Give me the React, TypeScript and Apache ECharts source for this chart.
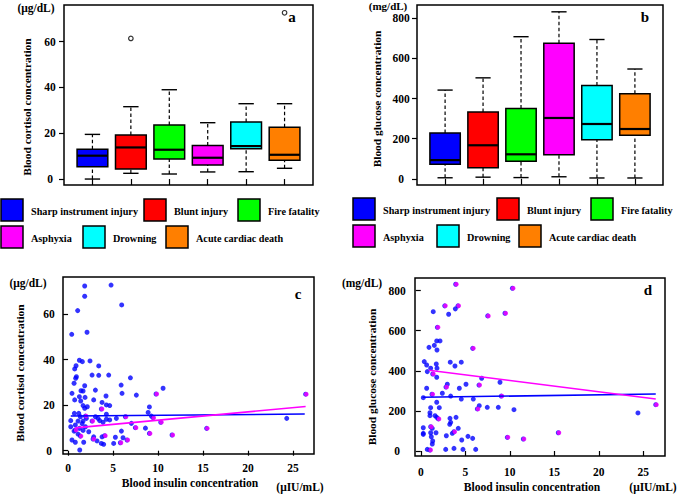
import React, { useEffect, useRef } from "react";
import * as echarts from "echarts";

// ---------- data ----------
const categories = [
  "Sharp instrument injury",
  "Blunt injury",
  "Fire fatality",
  "Asphyxia",
  "Drowning",
  "Acute cardiac death",
];
const categoryColors = ["#0000FF", "#FF0000", "#00FF00", "#FF00FF", "#00FFFF", "#FF7F00"];

// Panel a: blood cortisol (µg/dL) box plots
const cortisolLow = [0, 2.5, 2.2, 3.1, 3.2, 4.7];
const cortisolQ1 = [5.4, 4.4, 8.7, 6.1, 13.2, 8.2];
const cortisolMedian = [10.2, 13.8, 12.8, 9.3, 14.4, 10.6];
const cortisolQ3 = [13.0, 19.2, 23.6, 14.6, 24.9, 22.6];
const cortisolHigh = [19.5, 31.6, 39.0, 24.6, 32.9, 32.9];
const cortisolOutliers = [
  [2, 61.4],
  [6, 72.6],
];

// Panel b: blood glucose (mg/dL) box plots
const glucoseLow = [5, 8, 6, 10, 4, 4];
const glucoseQ1 = [73, 55, 87, 120, 195, 217];
const glucoseMedian = [93, 167, 122, 303, 273, 248];
const glucoseQ3 = [228, 333, 350, 675, 465, 424];
const glucoseHigh = [442, 503, 708, 832, 694, 547];

// Panel c: insulin (µIU/mL) vs cortisol (µg/dL)
const cortisolBlue = [
  [1.85, 72.3], [4.78, 72.7], [1.85, 67.8], [5.96, 64], [1.07, 61.5], [0.41, 51.1], [2.11, 52],
  [1.26, 39.7], [1.59, 39.1], [2.44, 39.4], [3.41, 37.2], [0.89, 37.3], [0.74, 35.9],
  [2.67, 33.2], [3.41, 33.1], [4.52, 33.2], [0.93, 32.5], [0.85, 31.8], [6.93, 32], [0.67, 29.6],
  [5.9, 28.8], [1.85, 28.5], [1.44, 26.3], [3.04, 26.6], [1.67, 26.2], [0.44, 25.2], [6.0, 25.2],
  [7.59, 24.4], [10.56, 27.4], [1.26, 23.7], [1.89, 23.4], [0.74, 22.3], [1.41, 21.8], [2.85, 22.3],
  [4.22, 24], [3.78, 21.2], [1.67, 19.8], [2.14, 19.3], [4.26, 20.1], [4.63, 19.8], [1.85, 18.6],
  [9.04, 19.2], [8.9, 16.8], [0.7, 16.4], [1.19, 16.4], [1.37, 14.9], [2.04, 14.2], [3.04, 14.9],
  [3.33, 14.2], [4.26, 16], [5.37, 14.2], [9.26, 15.2], [0.3, 13.2], [1.11, 13], [1.67, 13],
  [3.52, 13.2], [3.89, 12.5], [4.26, 13.8], [4.63, 13.5], [1.56, 11.9], [0.81, 11.3], [1.93, 10.5],
  [0.3, 10.5], [1.26, 9.8], [1.67, 8.9], [7.04, 12], [8.6, 9.9], [0.67, 8.6], [2.3, 8.3],
  [5.93, 8.6], [1.11, 7.3], [2.85, 6.1], [3.78, 6.1], [5.26, 5.9], [6.11, 5.7], [3.22, 4.3],
  [0.44, 4.7], [0.81, 3.7], [1.74, 3.7], [3.7, 3.2], [3.96, 2.8], [5.07, 3.2], [1.3, 0.3],
  [24.3, 14.2],
];
const cortisolMagenta = [
  [9.78, 24.9], [3.7, 18.3], [1.93, 15.2], [6.37, 14.9], [9.44, 14.5], [2.67, 13], [10.3, 12.5],
  [0.81, 9.1], [7.48, 10.1], [9.04, 7.6], [11.56, 6.9], [1.37, 6.4], [4.07, 6.6], [6.56, 4.7],
  [2.78, 5.1], [5.81, 3.5], [15.4, 9.8], [26.4, 24.8],
];
const cortisolFitBlue = [
  [0.3, 15.2],
  [26.3, 16.1],
];
const cortisolFitMagenta = [
  [0.8, 10.0],
  [26.4, 19.4],
];

// Panel d: insulin (µIU/mL) vs glucose (mg/dL)
const glucoseBlue = [
  [3.88, 709], [1.4, 695], [3.13, 682], [1.79, 549], [2.16, 549], [1.52, 527], [0.92, 517],
  [1.82, 504], [0.39, 446], [0.66, 429], [1.11, 413], [1.74, 434], [1.82, 413], [3.31, 443],
  [3.84, 424], [4.55, 443], [0.73, 396], [1.79, 368], [2.98, 333], [4.33, 313], [5.08, 333],
  [6.84, 363], [8.9, 343], [0.66, 313], [2.42, 288], [3.36, 274], [4.55, 259], [5.9, 259],
  [0.28, 266], [1.79, 243], [1.11, 216], [2.08, 216], [6.57, 226], [7.47, 218], [8.71, 218],
  [10.47, 206], [1.03, 191], [1.03, 176], [1.6, 176], [1.79, 168], [3.28, 163], [3.96, 168],
  [3.36, 143], [3.25, 133], [0.28, 116], [1.29, 113], [4.21, 113], [3.54, 88], [0.28, 88],
  [0.28, 83], [1.71, 91], [1.11, 91], [2.87, 76], [1.18, 71], [5.3, 73], [5.83, 63], [1.34, 50],
  [1.29, 35], [4.6, 55], [0.73, 8], [2.8, 8], [3.73, 13], [4.74, 8], [6.17, 8], [24.4, 190],
];
const glucoseMagenta = [
  [3.92, 832], [10.3, 812], [2.69, 724], [4.18, 724], [7.52, 674], [9.46, 687], [1.86, 617],
  [5.83, 512], [1.34, 384], [2.83, 319], [6.54, 329], [1.26, 283], [9.04, 274], [6.35, 210],
  [1.97, 160], [1.11, 121], [3.73, 96], [9.72, 68], [11.52, 60], [1.03, 5], [15.45, 91],
  [26.4, 231],
];
const glucoseFitBlue = [
  [0.2, 268],
  [26.4, 284],
];
const glucoseFitMagenta = [
  [0.9, 403],
  [26.4, 259],
];

// tick labels
const boxTicks = [1, 2, 3, 4, 5, 6];
const cortisolTicks = [0, 20, 40, 60];
const glucoseTicks = [0, 200, 400, 600, 800];
const insulinTicks = [0, 5, 10, 15, 20, 25];

// ---------- layout / style ----------
const FONT = '"Liberation Serif", "Times New Roman", serif';
const BLACK = "#000";
const BLUE = "#0000FF";
const MAGENTA = "#FF00FF";

const legendLayouts = [
  { xs: [1, 144, 238, 1, 83, 166], ys: [199, 199, 199, 226, 226, 226] },
  { xs: [353, 497, 591, 353, 437, 519], ys: [198, 198, 198, 225, 225, 225] },
];

function boxSeries(idx: number, low: number[], q1: number[], med: number[], q3: number[], high: number[]) {
  return {
    type: "custom",
    xAxisIndex: idx,
    yAxisIndex: idx,
    data: categories.map((_, i) => [boxTicks[i], low[i], q1[i], med[i], q3[i], high[i]]),
    encode: { x: 0, y: [1, 2, 3, 4, 5] },
    renderItem: (params: any, api: any) => {
      const x = api.value(0);
      const pLow = api.coord([x, api.value(1)]);
      const pQ1 = api.coord([x, api.value(2)]);
      const pMed = api.coord([x, api.value(3)]);
      const pQ3 = api.coord([x, api.value(4)]);
      const pHigh = api.coord([x, api.value(5)]);
      const w = api.size([0.8, 0])[0];
      const cx = pLow[0];
      const hw = w / 2;
      const cw = w / 4;
      const dash = { stroke: BLACK, lineWidth: 1.2, lineDash: [3.5, 2.5] };
      const solid = { stroke: BLACK, lineWidth: 1.4 };
      return {
        type: "group",
        children: [
          { type: "line", shape: { x1: cx, y1: pLow[1], x2: cx, y2: pQ1[1] }, style: dash },
          { type: "line", shape: { x1: cx, y1: pQ3[1], x2: cx, y2: pHigh[1] }, style: dash },
          { type: "line", shape: { x1: cx - cw, y1: pLow[1], x2: cx + cw, y2: pLow[1] }, style: solid },
          { type: "line", shape: { x1: cx - cw, y1: pHigh[1], x2: cx + cw, y2: pHigh[1] }, style: solid },
          {
            type: "rect",
            shape: { x: cx - hw, y: pQ3[1], width: w, height: pQ1[1] - pQ3[1] },
            style: { fill: categoryColors[params.dataIndex], stroke: BLACK, lineWidth: 1.5 },
          },
          { type: "line", shape: { x1: cx - hw, y1: pMed[1], x2: cx + hw, y2: pMed[1] }, style: { stroke: BLACK, lineWidth: 2.2 } },
        ],
      };
    },
  };
}

function tickStyle(len: number) {
  return { show: true, inside: false, length: len, lineStyle: { color: BLACK, width: 1.2 } };
}
const labelFont = { fontFamily: FONT, fontWeight: "bold", fontSize: 11.5, color: BLACK, lineHeight: 11 };

function txt(x: number, y: number, text: string, size: number, extra: any = {}) {
  return {
    type: "text",
    x,
    y,
    style: {
      text, fontFamily: FONT, fontWeight: "bold", fontSize: size, lineHeight: size, fill: BLACK,
      textAlign: "center", textVerticalAlign: "middle",
    },
    ...extra,
  };
}

function buildLegend(k: number) {
  const lay = legendLayouts[k];
  const els: any[] = [];
  categories.forEach((name, i) => {
    els.push({
      type: "rect",
      shape: { x: lay.xs[i], y: lay.ys[i], width: 22, height: 22 },
      style: { fill: categoryColors[i], stroke: BLACK, lineWidth: 1.5 },
    });
    els.push({
      type: "text",
      x: lay.xs[i] + 30,
      y: lay.ys[i] + 12,
      style: { text: name, fontFamily: FONT, fontWeight: "bold", fontSize: 10.2, fill: BLACK, textAlign: "left", textVerticalAlign: "middle" },
    });
  });
  return els;
}

export default function App() {
  const ref = useRef<HTMLDivElement>(null);
  useEffect(() => {
    if (!ref.current) return;
    const chart = echarts.init(ref.current, null, { renderer: "svg" });
    const gridBase = { show: true, borderColor: BLACK, borderWidth: 1.5, backgroundColor: "transparent", containLabel: false, outerBoundsMode: "none" };
    const option: any = {
      animation: false,
      backgroundColor: "#fff",
      grid: [
        { ...gridBase, left: 64, top: 5, width: 249, height: 180 },
        { ...gridBase, left: 417, top: 5, width: 246, height: 180 },
        { ...gridBase, left: 63, top: 277, width: 251, height: 177 },
        { ...gridBase, left: 415, top: 278, width: 250, height: 178 },
      ],
      xAxis: [
        { gridIndex: 0, type: "value", min: 0.26, max: 6.74, axisLine: { show: false }, axisTick: { ...tickStyle(6), customValues: boxTicks }, axisLabel: { show: false }, splitLine: { show: false } },
        { gridIndex: 1, type: "value", min: 0.26, max: 6.74, axisLine: { show: false }, axisTick: { ...tickStyle(6), customValues: boxTicks }, axisLabel: { show: false }, splitLine: { show: false } },
        { gridIndex: 2, type: "value", min: -0.56, max: 27.33, axisLine: { show: false }, axisTick: { ...tickStyle(5), customValues: insulinTicks }, axisLabel: { ...labelFont, customValues: insulinTicks, margin: 14, verticalAlign: "middle" }, splitLine: { show: false } },
        { gridIndex: 3, type: "value", min: -0.65, max: 27.44, axisLine: { show: false }, axisTick: { ...tickStyle(5), customValues: insulinTicks }, axisLabel: { ...labelFont, customValues: insulinTicks, margin: 16, verticalAlign: "middle" }, splitLine: { show: false } },
      ],
      yAxis: [
        { gridIndex: 0, type: "value", min: -2.6, max: 76, axisLine: { show: false }, axisTick: { ...tickStyle(5), customValues: cortisolTicks }, axisLabel: { ...labelFont, customValues: cortisolTicks, margin: 14, align: "center" }, splitLine: { show: false } },
        { gridIndex: 1, type: "value", min: -31, max: 866, axisLine: { show: false }, axisTick: { ...tickStyle(5), customValues: glucoseTicks }, axisLabel: { ...labelFont, customValues: glucoseTicks, margin: 16, align: "center" }, splitLine: { show: false } },
        { gridIndex: 2, type: "value", min: -1.45, max: 76.25, axisLine: { show: false }, axisTick: { ...tickStyle(5), customValues: cortisolTicks }, axisLabel: { ...labelFont, customValues: cortisolTicks, margin: 14, align: "center" }, splitLine: { show: false } },
        { gridIndex: 3, type: "value", min: -25, max: 863, axisLine: { show: false }, axisTick: { ...tickStyle(5), customValues: glucoseTicks }, axisLabel: { ...labelFont, customValues: glucoseTicks, margin: 18, align: "center" }, splitLine: { show: false } },
      ],
      series: [
        boxSeries(0, cortisolLow, cortisolQ1, cortisolMedian, cortisolQ3, cortisolHigh),
        {
          type: "scatter", xAxisIndex: 0, yAxisIndex: 0, data: cortisolOutliers, symbol: "circle", symbolSize: 4.5,
          itemStyle: { color: "#fff", borderColor: BLACK, borderWidth: 1.2 },
        },
        boxSeries(1, glucoseLow, glucoseQ1, glucoseMedian, glucoseQ3, glucoseHigh),
        // panel c
        { type: "scatter", xAxisIndex: 2, yAxisIndex: 2, data: [...cortisolBlue, ...cortisolMagenta], symbolSize: 5, itemStyle: { color: BLUE } },
        { type: "scatter", xAxisIndex: 2, yAxisIndex: 2, data: cortisolMagenta, symbolSize: 4.6, symbolOffset: [0.7, 0], itemStyle: { color: MAGENTA } },
        { type: "line", xAxisIndex: 2, yAxisIndex: 2, data: cortisolFitBlue, symbol: "none", lineStyle: { color: BLUE, width: 1.6 }, z: 4 },
        { type: "line", xAxisIndex: 2, yAxisIndex: 2, data: cortisolFitMagenta, symbol: "none", lineStyle: { color: MAGENTA, width: 1.6 }, z: 4 },
        // panel d
        { type: "scatter", xAxisIndex: 3, yAxisIndex: 3, data: [...glucoseBlue, ...glucoseMagenta], symbolSize: 5, itemStyle: { color: BLUE } },
        { type: "scatter", xAxisIndex: 3, yAxisIndex: 3, data: glucoseMagenta, symbolSize: 4.6, symbolOffset: [0.7, 0], itemStyle: { color: MAGENTA } },
        { type: "line", xAxisIndex: 3, yAxisIndex: 3, data: glucoseFitBlue, symbol: "none", lineStyle: { color: BLUE, width: 1.6 }, z: 4 },
        { type: "line", xAxisIndex: 3, yAxisIndex: 3, data: glucoseFitMagenta, symbol: "none", lineStyle: { color: MAGENTA, width: 1.6 }, z: 4 },
      ],
      graphic: [
        ...buildLegend(0),
        ...buildLegend(1),
        // units
        txt(36, 8, "(μg/dL)", 11.5),
        txt(388, 6, "(mg/dL)", 11),
        txt(28, 283, "(μg/dL)", 11.5),
        txt(362, 283, "(mg/dL)", 11.5),
        txt(300, 487, "(μIU/mL)", 11.5),
        txt(653, 487, "(μIU/mL)", 11.5),
        // panel letters
        txt(292, 17, "a", 15),
        txt(645, 17, "b", 15),
        txt(298, 294, "c", 15),
        txt(648, 290, "d", 15),
        // axis titles
        txt(27, 107, "Blood cortisol concentration", 11.4, { rotation: Math.PI / 2 }),
        txt(377, 99, "Blood glucose concentration", 11.4, { rotation: Math.PI / 2 }),
        txt(20, 373, "Blood cortisol concentration", 11.4, { rotation: Math.PI / 2 }),
        txt(372, 377, "Blood glucose concentration", 11.4, { rotation: Math.PI / 2 }),
        txt(190, 483, "Blood insulin concentration", 11.6),
        txt(532, 487, "Blood insulin concentration", 11.6),
      ],
    };
    chart.setOption(option);
    return () => chart.dispose();
  }, []);
  return <div ref={ref} style={{ position: "fixed", left: 0, top: 0, width: 677, height: 494 }} />;
}
